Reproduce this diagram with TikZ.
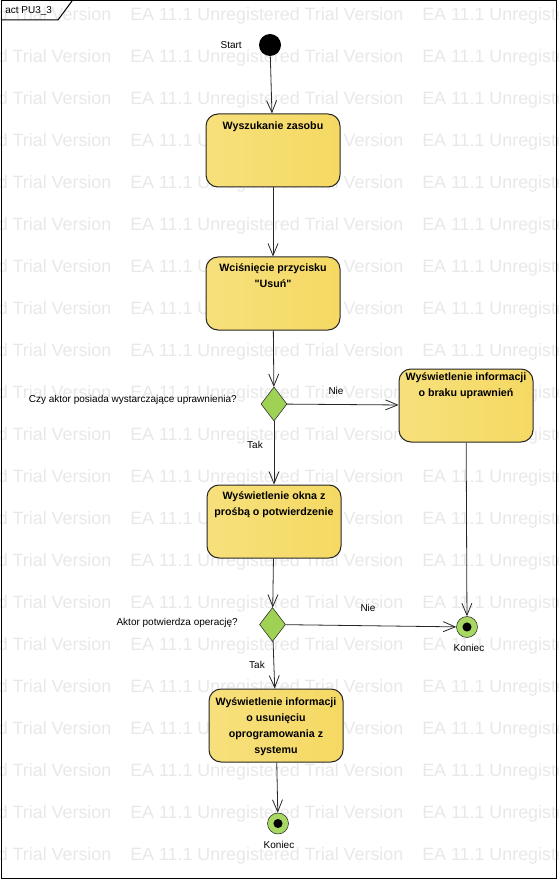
\documentclass[tikz,border=0pt]{standalone}
\usepackage{fontspec}
\setmainfont{Liberation Sans}[Ligatures=TeXOff]
\usetikzlibrary{arrows.meta,shapes.geometric}
\definecolor{actlight}{HTML}{FCF0B6}
\definecolor{actdark}{HTML}{F5D963}
\definecolor{decgreen}{HTML}{9ED154}
\definecolor{endgreen}{HTML}{A8D862}
\definecolor{wmgray}{HTML}{E8E8E8}
\newcommand{\lbl}{\fontsize{7.5}{9}\selectfont}
\newcommand{\bx}{\fontsize{8}{12}\selectfont\bfseries}

\begin{document}
\begin{tikzpicture}[x=0.75pt,y=-0.75pt,
    action/.style={draw=black!85,line width=0.75pt,rounded corners=9pt,
      minimum width=100.5pt,minimum height=54.75pt,
      left color=actdark!70!actlight,middle color=actlight,right color=actdark},
    acttext/.style={anchor=north,align=center,inner sep=0pt,font=\bx},
    decision/.style={diamond,draw=black!85,fill=decgreen,inner sep=0pt,
      minimum width=19.5pt,minimum height=25.5pt},
    endnode/.style={circle,draw=black!85,fill=endgreen,inner sep=0pt,
      minimum size=15.75pt},
    flow/.style={draw=black!85,line width=0.6pt,-{Straight Barb[length=9pt,width=7.5pt]}},
    txt/.style={font=\lbl,inner sep=0pt}]
     \useasboundingbox (0,0) rectangle (558,880);
     % watermark
     \foreach \r in {0,...,20}
       \foreach \c in {-162,130,422}
         \node[anchor=west,inner sep=0pt,text=wmgray,font=\fontsize{13.4}{16}\selectfont]
           (wm-\r-\c) at (\c,16+42*\r) {EA 11.1 Unregistered Trial Version};
     % frame
     \draw[line width=0.75pt] (1,1) rectangle (556,878);
     \draw[line width=0.75pt] (1,20) -- (58,20) -- (72,1);
     \node[txt,anchor=west] (title) at (5,11) {act PU3\_3};
     % nodes
     \node[circle,fill=black,inner sep=0pt,minimum size=16.5pt] (start) at (270,45) {};
     \node[txt,anchor=east] (start-l) at (242,45) {Start};
     \node[action] (find) at (273,150.5) {};
     \node[acttext] (find-t) at (273,122) {Wyszukanie zasobu};
     \node[action] (press) at (273,293.5) {};
     \node[acttext] (press-t) at (273,263) {Wciśnięcie przycisku\\\symbol{34}Usuń\symbol{34}};
     \node[decision] (perm) at (274,404) {};
     \node[txt,anchor=east] (perm-l) at (237,400) {Czy aktor posiada wystarczające uprawnienia?};
     \node[action] (noperm) at (466,405.5) {};
     \node[acttext] (noperm-t) at (466,372) {Wyświetlenie informacji\\o braku uprawnień};
     \node[action] (ask) at (274,521.5) {};
     \node[acttext] (ask-t) at (274,491) {Wyświetlenie okna z\\prośbą o potwierdzenie};
     \node[decision] (ok) at (272.5,624.5) {};
     \node[txt,anchor=east] (ok-l) at (238,623) {Aktor potwierdza operację?};
     \node[endnode] (endA) at (467,627) {};
     \fill (endA) circle[radius=3.4pt];
     \node[txt] (endA-l) at (469,648) {Koniec};
     \node[action] (done) at (276,725.5) {};
     \node[acttext] (done-t) at (276,697) {Wyświetlenie informacji\\o usunięciu\\oprogramowania z\\systemu};
     \node[endnode] (endB) at (278,823.5) {};
     \fill (endB) circle[radius=3.4pt];
     \node[txt] (endB-l) at (279,845) {Koniec};
     % connectors
     \draw[flow] (start) -- (find);
     \draw[flow] (find) -- (press);
     \draw[flow] (press) -- (perm);
     \draw[flow] (perm) -- (noperm);
     \draw[flow] (perm) -- (ask);
     \draw[flow] (noperm) -- (endA);
     \draw[flow] (ask) -- (ok);
     \draw[flow] (ok) -- (endA);
     \draw[flow] (ok) -- (done);
     \draw[flow] (done) -- (endB);
     % guard labels
     \node[txt] (no1) at (336,391) {Nie};
     \node[txt] (yes1) at (255,445) {Tak};
     \node[txt] (no2) at (368,608) {Nie};
     \node[txt] (yes2) at (257,665) {Tak};
    \end{tikzpicture}
\end{document}
